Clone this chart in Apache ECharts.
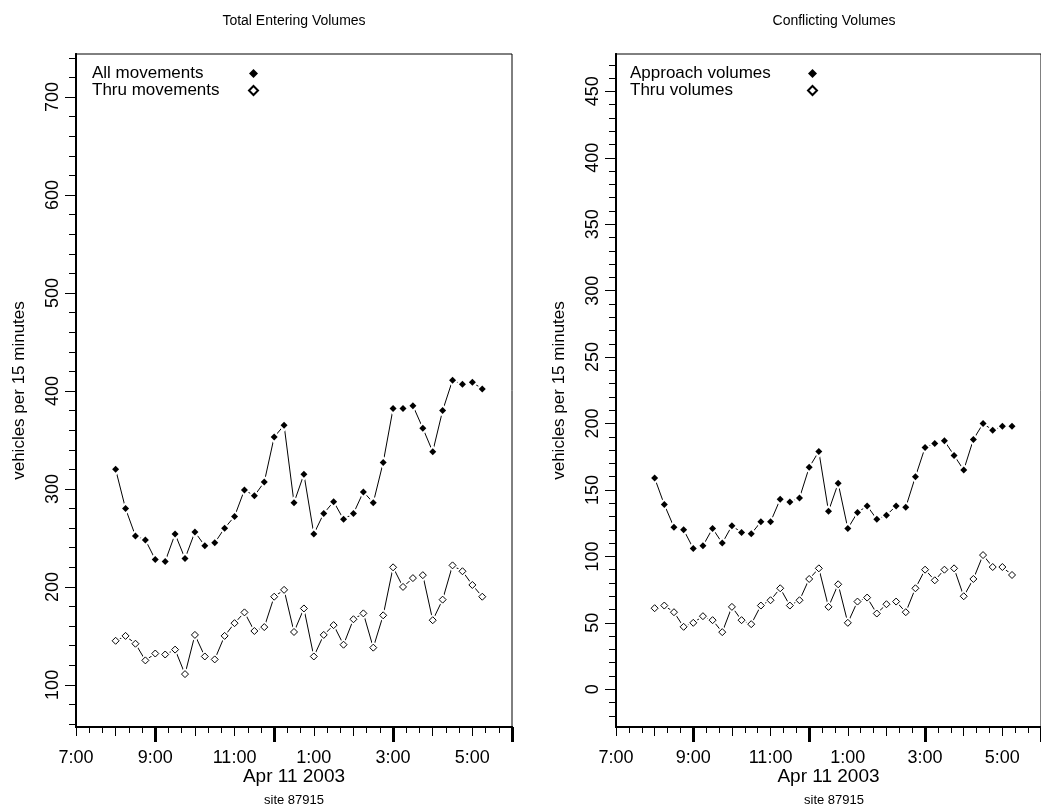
<!DOCTYPE html>
<html>
<head>
<meta charset="utf-8">
<script src="https://cdn.jsdelivr.net/npm/echarts@6/dist/echarts.min.js"></script>
<style>
  html, body { margin: 0; background: #fff; }
  #chart { width: 1041px; height: 807px; }
</style>
</head>
<body>
<div id="chart"></div>
<script>
// 15-minute counts, Apr 11 2003, site 87915
var times = ['8:00', '8:15', '8:30', '8:45', '9:00', '9:15', '9:30', '9:45',
  '10:00', '10:15', '10:30', '10:45', '11:00', '11:15', '11:30', '11:45',
  '12:00', '12:15', '12:30', '12:45', '13:00', '13:15', '13:30', '13:45',
  '14:00', '14:15', '14:30', '14:45', '15:00', '15:15', '15:30', '15:45',
  '16:00', '16:15', '16:30', '16:45', '17:00', '17:15'];

var allMovements = [320, 280, 252, 248, 228, 226, 254, 229, 256, 242, 245, 260, 272, 299, 293, 307,
  353, 365, 286, 315, 254, 275, 287, 269, 275, 297, 286, 327, 382, 382, 385, 362, 338, 380, 411, 407, 409, 402];
var thruMovements = [145, 150, 142, 125, 132, 131, 136, 111, 151, 129, 126, 150, 163, 174, 155, 159,
  190, 197, 154, 178, 129, 151, 161, 141, 167, 173, 138, 171, 220, 200, 209, 212, 166, 187, 222, 216, 202, 190];

var approachVolumes = [159, 139, 122, 120, 106, 108, 121, 110, 123, 118, 117, 126, 126, 143, 141, 144,
  167, 179, 134, 155, 121, 133, 138, 128, 131, 138, 137, 160, 182, 185, 187, 176, 165, 188, 200, 195, 198, 198];
var thruVolumes = [61, 63, 58, 47, 50, 55, 52, 43, 62, 52, 49, 63, 67, 76, 63, 67,
  83, 91, 62, 79, 50, 66, 69, 57, 64, 66, 58, 76, 90, 82, 90, 91, 70, 83, 101, 92, 92, 86];

var xLabelHours = [7, 9, 11, 13, 15, 17];
var xLabelText = ['7:00', '9:00', '11:00', '1:00', '3:00', '5:00'];
var xMajorHours = [9, 12, 15, 18];
var leftYLabels = [100, 200, 300, 400, 500, 600, 700];
var rightYLabels = [0, 50, 100, 150, 200, 250, 300, 350, 400, 450];

var FONT = '"Liberation Sans", Arial, sans-serif';

function toHours(t) {
  var p = t.split(':');
  return +p[0] + p[1] / 60;
}
var hours = times.map(toHours);

function pairs(vals) {
  return vals.map(function (v, i) { return [hours[i], v]; });
}

// tick positions between labels
function range(from, to, n) {
  var out = [];
  for (var k = 0; from + k / n <= to + 1e-9; k++) out.push(from + k / n);
  return out;
}

var xMinor = range(7, 18, 3);   // every 20 min
var xHour = range(7, 18, 1);

var panels = [
  { left: 76, title: 'Total Entering Volumes', yMin: 57, yMax: 744,
    yMajor: leftYLabels, yMinor: range(3, 37, 1).map(function (v) { return v * 20; }),
    names: ['All movements', 'Thru movements'], a: allMovements, b: thruMovements,
    legendLeft: 92, legendW: 152 },
  { left: 616, title: 'Conflicting Volumes', yMin: -28.4, yMax: 478.1,
    yMajor: rightYLabels, yMinor: range(-2, 47, 1).map(function (v) { return v * 10; }),
    names: ['Approach volumes', 'Thru volumes'], a: approachVolumes, b: thruVolumes,
    legendLeft: 630, legendW: 173 }
];

var grid = [], xAxis = [], yAxis = [], series = [], legend = [], graphic = [];
var black = '#000';

panels.forEach(function (p, gi) {
  grid.push({ left: p.left, top: 54, width: 436, height: 673, show: true,
    borderColor: black, borderWidth: 1, backgroundColor: 'transparent' });

  var xBase = { gridIndex: gi, type: 'value', min: 7, max: 18, position: 'bottom',
    splitLine: { show: false },
    axisLine: { show: true, onZero: false, lineStyle: { color: black, width: 2 } } };

  xAxis.push(Object.assign({}, xBase, {
    axisTick: { show: true, customValues: xMinor, length: 6, lineStyle: { color: black, width: 1 } },
    axisLabel: { show: true, customValues: xLabelHours, margin: 22, fontSize: 18, color: black, fontFamily: FONT,
      formatter: function (v) {
        var i = xLabelHours.indexOf(Math.round(v));
        return i < 0 ? '' : xLabelText[i];
      } },
    name: 'Apr 11 2003', nameLocation: 'middle', nameGap: 40, nameMoveOverlap: false,
    nameTextStyle: { fontSize: 19, color: black, fontFamily: FONT }
  }));
  xAxis.push(Object.assign({}, xBase, {
    axisTick: { show: true, customValues: xHour, length: 9, lineStyle: { color: black, width: 1 } },
    axisLabel: { show: false }
  }));
  xAxis.push(Object.assign({}, xBase, {
    axisTick: { show: true, customValues: xMajorHours, length: 15, lineStyle: { color: black, width: 3 } },
    axisLabel: { show: false }
  }));

  var yBase = { gridIndex: gi, type: 'value', min: p.yMin, max: p.yMax, position: 'left',
    splitLine: { show: false },
    axisLine: { show: true, onZero: false, lineStyle: { color: black, width: 2 } } };
  yAxis.push(Object.assign({}, yBase, {
    axisTick: { show: true, customValues: p.yMajor, length: 11, lineStyle: { color: black, width: 1 } },
    axisLabel: { show: true, customValues: p.yMajor, rotate: 90, margin: 14, fontSize: 18,
      color: black, fontFamily: FONT },
    name: 'vehicles per 15 minutes', nameLocation: 'middle', nameGap: 48, nameRotate: 90,
    nameMoveOverlap: false,
    nameTextStyle: { fontSize: 17, color: black, fontFamily: FONT }
  }));
  yAxis.push(Object.assign({}, yBase, {
    axisTick: { show: true, customValues: p.yMinor, length: 7, lineStyle: { color: black, width: 1 } },
    axisLabel: { show: false }
  }));

  [p.a, p.b].forEach(function (vals, si) {
    var common = { xAxisIndex: gi * 3, yAxisIndex: gi * 2, data: pairs(vals), silent: true };
    series.push(Object.assign({}, common, {
      type: 'line', name: 'line' + gi + si, showSymbol: false, z: 2,
      lineStyle: { color: black, width: 1 }
    }));
    // white halo leaves a gap in the line round each marker
    series.push(Object.assign({}, common, {
      type: 'scatter', name: 'halo' + gi + si, symbol: 'diamond', symbolSize: 13, z: 3,
      itemStyle: { color: '#fff', opacity: 1 }
    }));
    series.push(Object.assign({}, common, {
      type: 'scatter', name: p.names[si], symbol: 'diamond', symbolSize: 7, z: 4,
      itemStyle: si === 0 ? { color: black, opacity: 1 }
                          : { color: '#fff', borderColor: black, borderWidth: 1, opacity: 1 }
    }));
  });

  legend.push({ data: p.names, orient: 'vertical', left: p.legendLeft, top: 65, padding: 0,
    align: 'right', itemWidth: 9, itemHeight: 9, itemGap: 0, selectedMode: false,
    formatter: function (name) { return '{t|' + name + '}'; },
    textStyle: { color: black, fontFamily: FONT, fontSize: 17, lineHeight: 17,
      rich: { t: { width: p.legendW, align: 'left', fontSize: 17, fontFamily: FONT, color: black, lineHeight: 17 } } } });

  graphic.push({ type: 'text', x: p.left + 218, y: 21,
    style: { text: p.title, align: 'center', verticalAlign: 'middle', fontSize: 14, fontFamily: FONT, fill: black } });
  graphic.push({ type: 'text', x: p.left + 218, y: 800,
    style: { text: 'site 87915', align: 'center', verticalAlign: 'middle', fontSize: 13, fontFamily: FONT, fill: black } });
});

var chart = echarts.init(document.getElementById('chart'));
chart.setOption({
  animation: false,
  backgroundColor: '#fff',
  grid: grid,
  xAxis: xAxis,
  yAxis: yAxis,
  legend: legend,
  graphic: graphic,
  series: series
});
</script>
</body>
</html>
